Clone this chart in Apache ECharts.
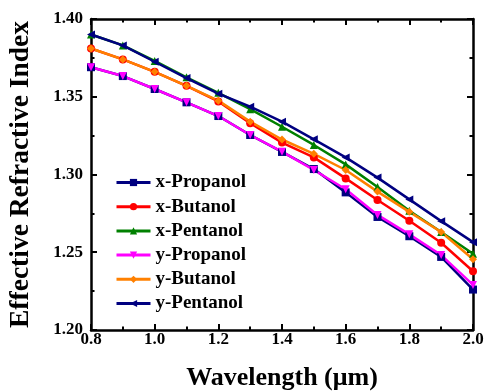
<!DOCTYPE html>
<html>
<head>
<meta charset="utf-8">
<script src="https://cdn.jsdelivr.net/npm/echarts@6/dist/echarts.min.js"></script>
<style>
  html, body { margin: 0; padding: 0; background: #fff; }
  #chart { width: 487px; height: 391px; }
</style>
</head>
<body>
<div id="chart"></div>
<script>
// wavelength in µm
const wavelength = [0.8, 0.9, 1.0, 1.1, 1.2, 1.3, 1.4, 1.5, 1.6, 1.7, 1.8, 1.9, 2.0];

const xPropanol = [1.369, 1.3633, 1.355, 1.3464, 1.3376, 1.3254, 1.3145, 1.3035, 1.2885, 1.2727, 1.2603, 1.247, 1.226];
const xButanol  = [1.381, 1.374, 1.366, 1.357, 1.347, 1.333, 1.3205, 1.311, 1.2975, 1.2836, 1.2703, 1.2561, 1.2378];
const xPentanol = [1.390, 1.383, 1.373, 1.3625, 1.3525, 1.342, 1.3307, 1.319, 1.3065, 1.292, 1.2767, 1.263, 1.249];
const yPropanol = [1.369, 1.3633, 1.355, 1.3464, 1.3376, 1.3254, 1.3147, 1.3029, 1.2905, 1.274, 1.2615, 1.2482, 1.229];
const yButanol  = [1.381, 1.374, 1.366, 1.357, 1.3475, 1.334, 1.3225, 1.3133, 1.3029, 1.289, 1.276, 1.263, 1.2455];
const yPentanol = [1.390, 1.383, 1.3725, 1.362, 1.352, 1.3436, 1.334, 1.3226, 1.311, 1.298, 1.284, 1.270, 1.2565];

const FONT = "'Liberation Serif', 'Times New Roman', serif";

const seriesDefs = [
  { name: "x-Propanol", data: xPropanol, color: "#000080", symbol: "rect", rotate: 0 },
  { name: "x-Butanol", data: xButanol, color: "#ff0000", symbol: "circle", rotate: 0 },
  { name: "x-Pentanol", data: xPentanol, color: "#008000", symbol: "triangle", rotate: 0 },
  { name: "y-Propanol", data: yPropanol, color: "#ff00ff", symbol: "triangle", rotate: 180 },
  { name: "y-Butanol", data: yButanol, color: "#ff8000", symbol: "diamond", rotate: 0 },
  { name: "y-Pentanol", data: yPentanol, color: "#000080", symbol: "triangle", rotate: 90 },
];

const tickStyle = { show: true, inside: true, length: 6, lineStyle: { color: "#000", width: 2 } };
const minorStyle = { show: true, splitNumber: 2, length: 3.5, lineStyle: { color: "#000", width: 2 } };
const lineStyle = { show: true, lineStyle: { color: "#000", width: 2.5 } };

const chart = echarts.init(document.getElementById("chart"));
chart.setOption({
  animation: false,
  grid: { left: 91, right: 14, top: 19, bottom: 61, containLabel: false, outerBoundsMode: "none" },
  legend: {
    orient: "vertical",
    left: 110,
    top: 168,
    itemWidth: 34,
    itemHeight: 9,
    itemGap: 5.2,
    lineStyle: { width: 3 },
    textStyle: { fontFamily: FONT, fontWeight: "bold", fontSize: 19, color: "#000" },
    data: seriesDefs.map(s => s.name),
  },
  xAxis: [
    {
      type: "value",
      min: 0.8,
      max: 2.0,
      interval: 0.2,
      name: "Wavelength (\u03bcm)",
      nameLocation: "middle",
      nameGap: 35,
      nameTextStyle: { fontFamily: FONT, fontWeight: "bold", fontSize: 26, color: "#000" },
      axisLine: lineStyle,
      axisTick: tickStyle,
      minorTick: minorStyle,
      splitLine: { show: false },
      axisLabel: {
        margin: 1,
        fontFamily: FONT, fontWeight: "bold", fontSize: 17, color: "#000",
        formatter: v => v.toFixed(1),
      },
    },
    {
      type: "value",
      position: "top",
      min: 0.8,
      max: 2.0,
      interval: 0.2,
      axisLine: lineStyle,
      axisTick: tickStyle,
      minorTick: minorStyle,
      splitLine: { show: false },
      axisLabel: { show: false },
    },
  ],
  yAxis: [
    {
      type: "value",
      min: 1.2,
      max: 1.4,
      interval: 0.05,
      name: "Effective Refractive Index",
      nameLocation: "middle",
      nameGap: 56,
      nameTextStyle: { fontFamily: FONT, fontWeight: "bold", fontSize: 27.5, color: "#000" },
      axisLine: lineStyle,
      axisTick: tickStyle,
      minorTick: minorStyle,
      splitLine: { show: false },
      axisLabel: {
        margin: 8,
        fontFamily: FONT, fontWeight: "bold", fontSize: 17, color: "#000",
        formatter: v => v.toFixed(2),
      },
    },
    {
      type: "value",
      position: "right",
      min: 1.2,
      max: 1.4,
      interval: 0.05,
      axisLine: lineStyle,
      axisTick: tickStyle,
      minorTick: minorStyle,
      splitLine: { show: false },
      axisLabel: { show: false },
    },
  ],
  series: seriesDefs.map(s => ({
    name: s.name,
    type: "line",
    xAxisIndex: 0,
    yAxisIndex: 0,
    data: wavelength.map((w, i) => [w, s.data[i]]),
    symbol: s.symbol,
    symbolRotate: s.rotate,
    symbolSize: 8,
    showAllSymbol: true,
    color: s.color,
    lineStyle: { width: 2.5, color: s.color },
    itemStyle: { color: s.color },
  })),
});
</script>
</body>
</html>
